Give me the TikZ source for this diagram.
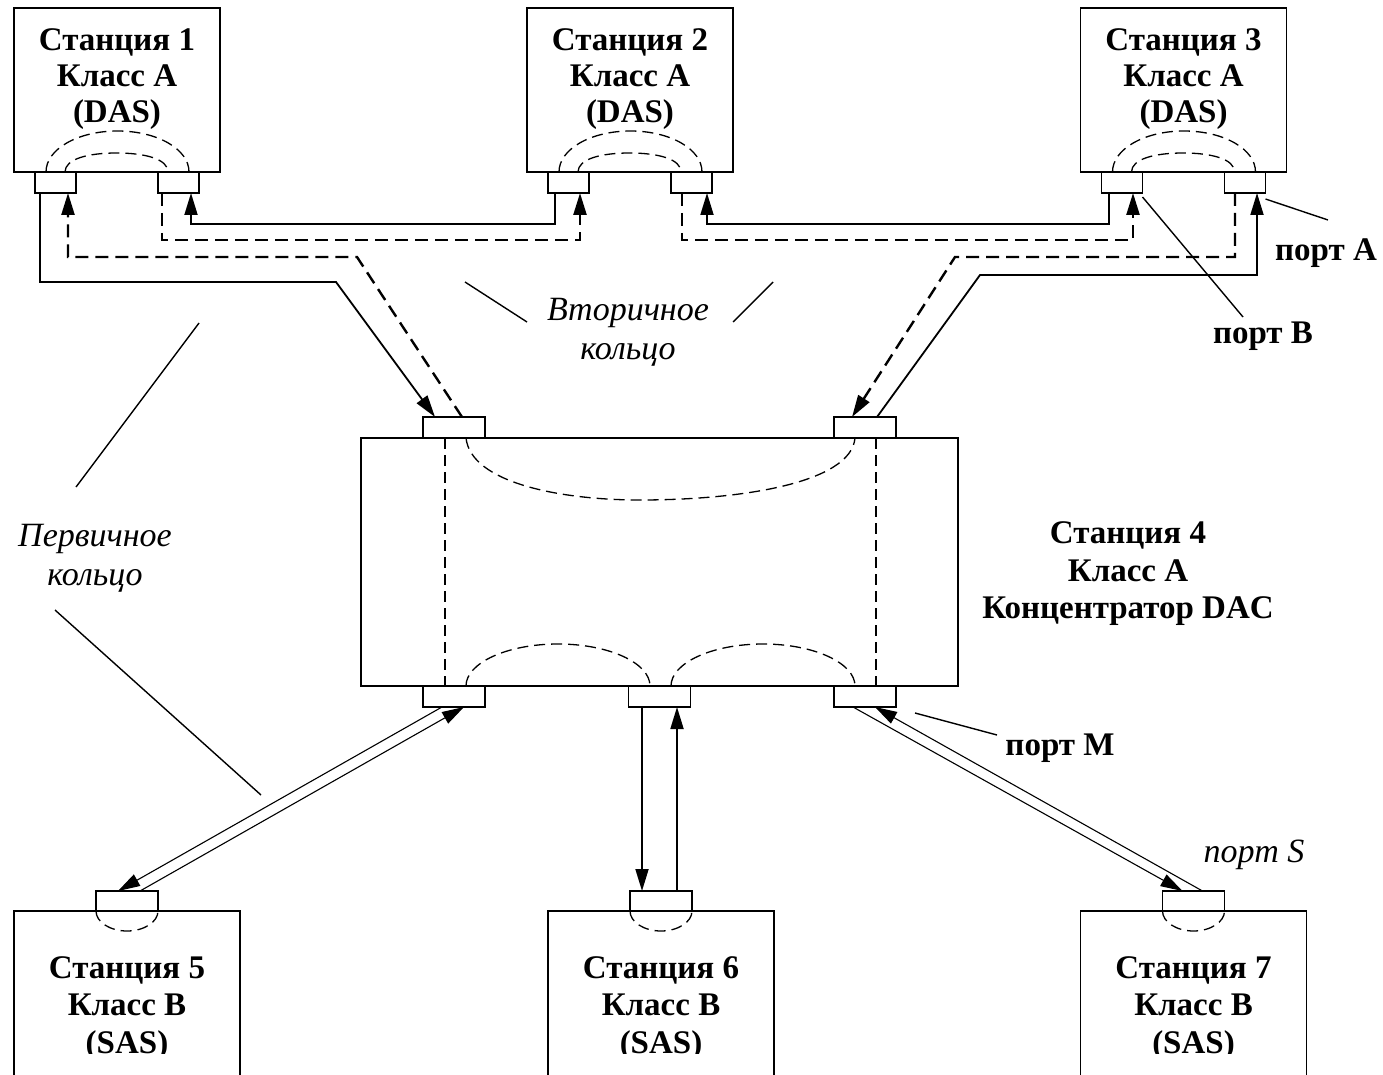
\documentclass[tikz,border=0pt]{standalone}
\usepackage{fontspec}
\setmainfont{Liberation Serif}
\usetikzlibrary{arrows.meta,positioning}

\begin{document}
\begin{tikzpicture}[
  x=1pt, y=-1pt,
  >={Triangle[length=22pt,width=13pt]},
  font=\fontsize{33}{36}\selectfont,
  station/.style={draw, line width=1.8pt, outer sep=0pt, inner sep=0pt,
                  minimum width=206pt, minimum height=164pt},
  sasbox/.style={station, minimum width=226pt, minimum height=180pt},
  port/.style={draw, line width=1.6pt, outer sep=0pt, inner sep=0pt,
               minimum width=41pt, minimum height=21pt},
  mport/.style={port, minimum width=62pt},
  stname/.style={font=\fontsize{33}{36}\selectfont\bfseries, align=center, inner sep=0pt},
  sasname/.style={stname, font=\fontsize{33}{37.5}\selectfont\bfseries},
  ringlbl/.style={font=\fontsize{34}{39}\selectfont\itshape, align=center, inner sep=0pt},
  ring/.style={line width=1.8pt},
  sec/.style={line width=2.4pt, dash pattern=on 13pt off 7pt},
  inloop/.style={line width=1.3pt, dash pattern=on 11pt off 6pt},
  fiber/.style={line width=1.1pt},
  leader/.style={line width=1.4pt}
]
\clip (0,0) rectangle (1383,1075);

% stations
\node[station] (st1) at (117,90) {};
\node[station] (st2) at (630,90) {};
\node[station] (st3) at (1183.5,90) {};
\node[station, minimum width=597pt, minimum height=248pt] (st4) at (659.5,562) {};
\node[sasbox] (st5) at (127,1001) {};
\node[sasbox] (st6) at (661,1001) {};
\node[sasbox] (st7) at (1193.5,1001) {};

\node[stname, below=20pt of st1.north] (t1) {Станция 1\\Класс A\\(DAS)};
\node[stname, below=20pt of st2.north] (t2) {Станция 2\\Класс A\\(DAS)};
\node[stname, below=20pt of st3.north] (t3) {Станция 3\\Класс A\\(DAS)};
\node[sasname] (t4) at (1128,574) {Станция 4\\Класс A\\Концентратор DAC};
\begin{scope}
  \clip (0,0) rectangle (1383,1053);
  \node[sasname, below=45pt of st5.north] (t5) {Станция 5\\Класс B\\(SAS)};
  \node[sasname, below=45pt of st6.north] (t6) {Станция 6\\Класс B\\(SAS)};
  \node[sasname, below=45pt of st7.north] (t7) {Станция 7\\Класс B\\(SAS)};
\end{scope}

% ports
\node[port, below right=0pt and 21pt of st1.south west] (p1b) {};
\node[port, below left=0pt and 21pt of st1.south east] (p1a) {};
\node[port, below right=0pt and 21pt of st2.south west] (p2b) {};
\node[port, below left=0pt and 21pt of st2.south east] (p2a) {};
\node[port, below right=0pt and 21pt of st3.south west] (p3b) {};
\node[port, below left=0pt and 21pt of st3.south east] (p3a) {};
\node[mport, above right=0pt and 62pt of st4.north west] (m1) {};
\node[mport, above left=0pt and 62pt of st4.north east] (m2) {};
\node[mport, below right=0pt and 62pt of st4.south west] (m3) {};
\node[mport, below=0pt of st4.south] (m4) {};
\node[mport, below left=0pt and 62pt of st4.south east] (m5) {};
\node[mport, minimum height=20pt, above=0pt of st5.north] (s5) {};
\node[mport, minimum height=20pt, above=0pt of st6.north] (s6) {};
\node[mport, minimum height=20pt, above=0pt of st7.north] (s7) {};

% internal paths
\foreach \s in {st1,st2,st3} {
  \draw[inloop, shift={(\s.south west)}] (32,0) .. controls (32,-23) and (64,-41) .. (103.5,-41)
    .. controls (143,-41) and (175,-23) .. (175,0);
  \draw[inloop, shift={(\s.south west)}] (51,0) .. controls (51,-13) and (74,-19) .. (102.5,-19)
    .. controls (131,-19) and (154,-13) .. (154,0);
}
\foreach \p in {s5,s6,s7}
  \draw[inloop, shift={(\p.south west)}] (0,0) .. controls (0,11) and (14,20) .. (31,20)
    .. controls (48,20) and (62,11) .. (62,0);
\draw[inloop, shift={(st4.north west)}] (105,0) .. controls (110,45) and (200,62) .. (279,62)
  .. controls (380,62) and (490,45) .. (494,0);
\draw[inloop, shift={(st4.south west)}] (105,0) .. controls (105,-23) and (146,-42) .. (197,-42)
  .. controls (248,-42) and (289,-23) .. (289,0);
\draw[inloop, shift={(st4.south west)}] (310,0) .. controls (310,-23) and (351,-42) .. (402,-42)
  .. controls (453,-42) and (494,-23) .. (494,0);
\draw[inloop, line width=1.8pt] ([xshift=22pt]m1.south west) -- ([xshift=22pt]m3.north west);
\draw[inloop, line width=1.8pt] ([xshift=-20pt]m2.south east) -- ([xshift=-20pt]m5.north east);

% primary ring
\draw[ring, ->] ([xshift=5pt]p1b.south west) -- ++(0,89) -- ++(296,0) -- ([xshift=12pt]m1.north west);
\draw[ring, ->] ([xshift=7pt]p2b.south west) -- ++(0,31) -| ([xshift=-8pt]p1a.south east);
\draw[ring, ->] ([xshift=7.5pt]p3b.south west) -- ++(0,31) -| ([xshift=-5pt]p2a.south east);
\draw[ring, ->] ([xshift=43pt]m2.north west) -- ++(103,-142) -| ([xshift=-8.5pt]p3a.south east);

% secondary ring
\draw[sec, ->] ([xshift=39pt]m1.north west) -- ++(-105,-160) -| ([xshift=-8pt]p1b.south east);
\draw[sec, ->] ([xshift=4pt]p1a.south west) -- ++(0,47) -| ([xshift=-9pt]p2b.south east);
\draw[sec, ->] ([xshift=11pt]p2a.south west) -- ++(0,47) -| ([xshift=-9.5pt]p3b.south east);
\draw[sec, ->] ([xshift=10.5pt]p3a.south west) -- ++(0,64) -- ++(-280,0) -- ([xshift=18pt]m2.north west);

% SAS links
\draw[fiber, ->] ([xshift=19pt]m3.south west) -- ([xshift=22pt]s5.north west);
\draw[fiber, ->] ([xshift=44pt]s5.north west) -- ([xshift=41pt]m3.south west);
\draw[ring, ->] ([xshift=-17.5pt]m4.south) -- ([xshift=-17.5pt]m4.south |- s6.north);
\draw[ring, ->] ([xshift=17.5pt]m4.south |- s6.north) -- ([xshift=17.5pt]m4.south);
\draw[fiber, ->] ([xshift=19pt]m5.south west) -- ([xshift=20pt]s7.north west);
\draw[fiber, ->] ([xshift=40pt]s7.north west) -- ([xshift=41pt]m5.south west);

% labels
\node[stname] (lblA) at (1326,253) {порт A};
\node[stname] (lblB) at (1263,336) {порт B};
\node[stname] (lblM) at (1060,748) {порт M};
\node[ringlbl] (lblS) at (1254,855) {порт S};
\node[ringlbl] (lblsec) at (628,332) {Вторичное\\кольцо};
\node[ringlbl] (lblpri) at (95,558) {Первичное\\кольцо};

\coordinate (pa) at (1328,220);
\coordinate (pb) at (1243,317);
\coordinate (pm1) at (915,713);
\coordinate (pm2) at (997,735);
\coordinate (v1) at (465,282);
\coordinate (v2) at (527,322);
\coordinate (v3) at (773,282);
\coordinate (v4) at (733,322);
\coordinate (r1) at (199,323);
\coordinate (r2) at (76,487);
\coordinate (r3) at (55,610);
\coordinate (r4) at (261,795);
\draw[leader] ([yshift=-6pt]p3a.south east) -- (pa);
\draw[leader] ([yshift=-4pt]p3b.south east) -- (pb);
\draw[leader] (pm1) -- (pm2);
\draw[leader] (v1) -- (v2);
\draw[leader] (v3) -- (v4);
\draw[leader] (r1) -- (r2);
\draw[leader] (r3) -- (r4);
\end{tikzpicture}
\end{document}
